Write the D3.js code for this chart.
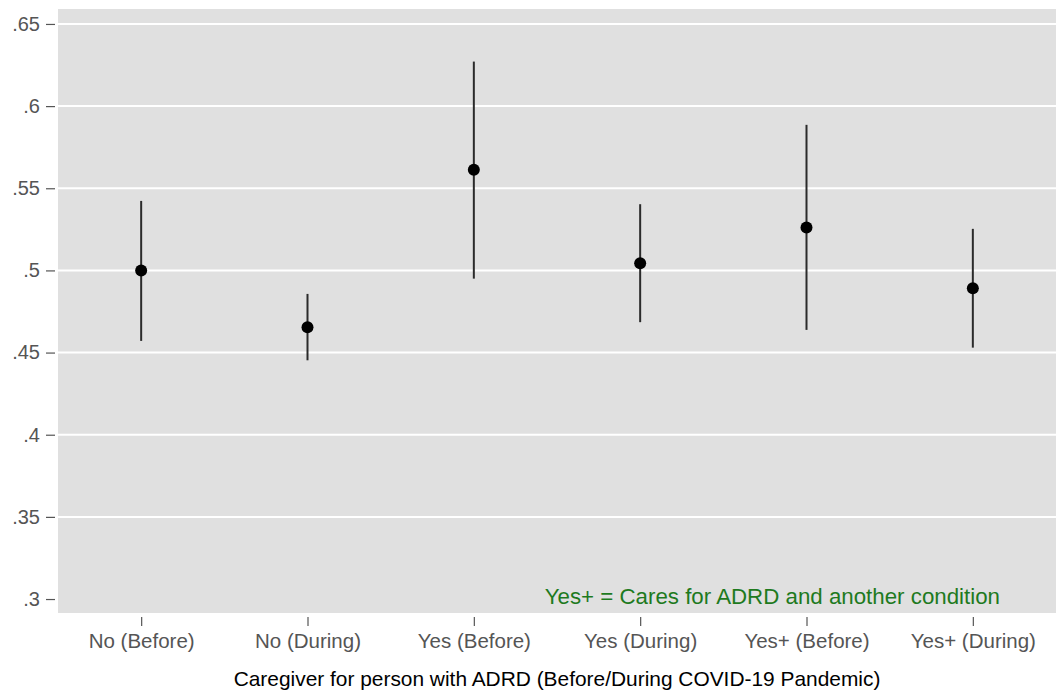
<!DOCTYPE html>
<html>
<head>
<meta charset="utf-8">
<script src="https://cdn.jsdelivr.net/npm/d3@7"></script>
<style>
  html, body { margin: 0; padding: 0; background: #ffffff; }
  svg { display: block; font-family: "Liberation Sans", Arial, Helvetica, sans-serif; }
</style>
</head>
<body>
<svg id="chart" width="1056" height="692"></svg>
<script>
// Groups on the x axis
const categories = ["No (Before)", "No (During)", "Yes (Before)", "Yes (During)", "Yes+ (Before)", "Yes+ (During)"];
// Point estimates and 95% confidence bounds
const estimates = [0.500, 0.4654, 0.5612, 0.5044, 0.5261, 0.4892];
const lowerCI   = [0.4571, 0.4453, 0.4950, 0.4685, 0.4638, 0.4530];
const upperCI   = [0.5423, 0.4857, 0.6271, 0.5403, 0.5886, 0.5253];
// Y axis ticks and their labels
const yTicks = [0.3, 0.35, 0.4, 0.45, 0.5, 0.55, 0.6, 0.65];
const yTickLabels = [".3", ".35", ".4", ".45", ".5", ".55", ".6", ".65"];
const xTitle = "Caregiver for person with ADRD (Before/During COVID-19 Pandemic)";
const note = "Yes+ = Cares for ADRD and another condition";

const svg = d3.select("#chart");
const plot = { left: 58, right: 1056, top: 9, bottom: 613 };

const x = d3.scalePoint()
  .domain(categories)
  .range([plot.left, plot.right])
  .padding(0.5);

const y = d3.scaleLinear()
  .domain([0.2915, 0.6591])
  .range([plot.bottom, plot.top]);

// Plot region background
svg.append("rect")
  .attr("x", plot.left).attr("y", plot.top)
  .attr("width", plot.right - plot.left)
  .attr("height", plot.bottom - plot.top)
  .attr("fill", "#e0e0e0");

// Horizontal grid lines
svg.append("g")
  .selectAll("line")
  .data(yTicks.filter(t => t > 0.3))
  .join("line")
  .attr("x1", plot.left).attr("x2", plot.right)
  .attr("y1", d => y(d)).attr("y2", d => y(d))
  .attr("stroke", "#ffffff")
  .attr("stroke-width", 2);

// Y axis
const yAxis = d3.axisLeft(y)
  .tickValues(yTicks)
  .tickFormat((d, i) => yTickLabels[i])
  .tickSize(9)
  .tickPadding(6);

const gy = svg.append("g")
  .attr("transform", `translate(${plot.left - 3},0)`)
  .call(yAxis);
gy.select(".domain").remove();
gy.selectAll(".tick line").attr("stroke", "#555").attr("stroke-width", 1.2);
gy.selectAll(".tick text")
  .attr("fill", "#555")
  .style("font-size", "20px")
  .style("font-family", "'Liberation Sans', Arial, sans-serif");

// X axis
const xAxis = d3.axisBottom(x)
  .tickSize(9)
  .tickPadding(7);

const gx = svg.append("g")
  .attr("transform", `translate(0,${plot.bottom + 4})`)
  .call(xAxis);
gx.select(".domain").remove();
gx.selectAll(".tick line").attr("stroke", "#555").attr("stroke-width", 1.2);
gx.selectAll(".tick text")
  .attr("fill", "#555")
  .style("font-size", "20.5px")
  .style("font-family", "'Liberation Sans', Arial, sans-serif");

// Confidence interval whiskers
svg.append("g")
  .selectAll("line")
  .data(categories)
  .join("line")
  .attr("x1", d => x(d)).attr("x2", d => x(d))
  .attr("y1", (d, i) => y(lowerCI[i]))
  .attr("y2", (d, i) => y(upperCI[i]))
  .attr("stroke", "#2b2b2b")
  .attr("stroke-width", 2);

// Point estimates
svg.append("g")
  .selectAll("circle")
  .data(categories)
  .join("circle")
  .attr("cx", d => x(d))
  .attr("cy", (d, i) => y(estimates[i]))
  .attr("r", 6)
  .attr("fill", "#000000");

// Note inside the plot
svg.append("text")
  .attr("x", 1000)
  .attr("y", 604)
  .attr("text-anchor", "end")
  .attr("fill", "#1e7a1e")
  .style("font-size", "22.3px")
  .text(note);

// X axis title
svg.append("text")
  .attr("x", (plot.left + plot.right) / 2)
  .attr("y", 686)
  .attr("text-anchor", "middle")
  .attr("fill", "#000000")
  .style("font-size", "20.9px")
  .text(xTitle);
</script>
</body>
</html>
